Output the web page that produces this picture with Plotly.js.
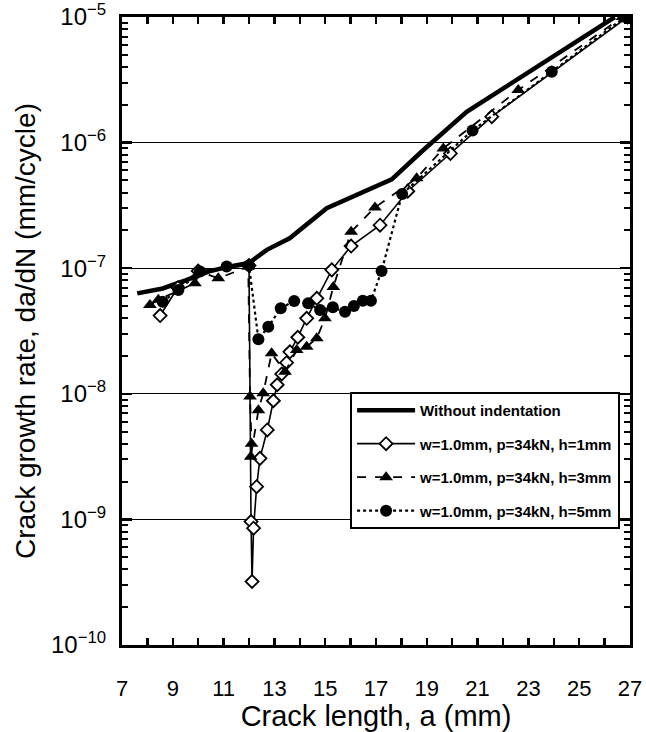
<!DOCTYPE html>
<html>
<head>
<meta charset="utf-8">
<script src="https://cdn.plot.ly/plotly-3.0.1.min.js"></script>
<style>html,body{margin:0;padding:0;background:#fff;}#chart{width:646px;height:732px;}</style>
</head>
<body>
<div id="chart"></div>
<script>
// Without indentation
const aBase = [7.6, 8.6, 9.5, 10.4, 11.2, 12.0, 12.7, 13.6, 15.06, 17.62, 18.8, 20.57, 26.4];
const rBase = [6.3e-8, 6.9e-8, 8.0e-8, 9.4e-8, 1.03e-7, 1.1e-7, 1.4e-7, 1.73e-7, 3.0e-7, 5.1e-7, 8.5e-7, 1.76e-6, 1.0e-5];

// w=1.0mm, p=34kN, h=1mm
const aH1 = [8.5, 9.2, 10.0, 12.0, 12.08, 12.12, 12.18, 12.3, 12.43, 12.72, 12.96, 13.11, 13.29, 13.48, 13.61, 13.92, 14.27, 14.67, 15.26, 16.02, 17.16, 18.25, 19.93, 21.56, 26.9];
const rH1 = [4.2e-8, 7.0e-8, 9.5e-8, 1.05e-7, 9.6e-10, 3.2e-10, 8.5e-10, 1.82e-9, 3.06e-9, 5.15e-9, 8.8e-9, 1.18e-8, 1.44e-8, 1.77e-8, 2.16e-8, 2.82e-8, 3.99e-8, 5.76e-8, 9.7e-8, 1.5e-7, 2.2e-7, 4.1e-7, 8.2e-7, 1.61e-6, 1.0e-5];

// w=1.0mm, p=34kN, h=3mm
const aH3 = [8.1, 8.43, 9.87, 10.07, 10.79, 11.97, 12.04, 12.1, 12.07, 12.37, 12.56, 12.89, 13.42, 13.88, 14.27, 14.67, 14.99, 15.32, 16.02, 16.96, 18.6, 19.65, 22.6, 26.7];
const rH3 = [5.1e-8, 5.6e-8, 7.6e-8, 9.4e-8, 8.3e-8, 1.03e-7, 9.5e-9, 4.0e-9, 3.15e-9, 7.4e-9, 1.01e-8, 2.1e-8, 1.5e-8, 2.23e-8, 2.37e-8, 2.77e-8, 3.99e-8, 7.1e-8, 1.95e-7, 3.05e-7, 5.2e-7, 9.0e-7, 2.62e-6, 1.0e-5];

// w=1.0mm, p=34kN, h=5mm
const aH5 = [8.6, 9.22, 10.07, 11.12, 12.0, 12.37, 12.76, 13.25, 13.78, 14.33, 14.8, 15.3, 15.78, 16.13, 16.48, 16.8, 17.22, 18.03, 20.8, 23.92, 26.8];
const rH5 = [5.4e-8, 6.7e-8, 9.4e-8, 1.03e-7, 1.05e-7, 2.72e-8, 3.42e-8, 4.8e-8, 5.48e-8, 5.26e-8, 4.65e-8, 4.88e-8, 4.5e-8, 5.0e-8, 5.5e-8, 5.5e-8, 9.5e-8, 3.9e-7, 1.25e-6, 3.67e-6, 1.0e-5];

const seriesNames = ['Without indentation', 'w=1.0mm, p=34kN, h=1mm', 'w=1.0mm, p=34kN, h=3mm', 'w=1.0mm, p=34kN, h=5mm'];

const xTickVals = [7,8,9,10,11,12,13,14,15,16,17,18,19,20,21,22,23,24,25,26,27];
const xTickText = ['7','','9','','11','','13','','15','','17','','19','','21','','23','','25','','27'];
const yTickVals = [1e-10, 1e-9, 1e-8, 1e-7, 1e-6, 1e-5];
const yTickText = ['10<sup>−10</sup>', '10<sup>−9</sup>', '10<sup>−8</sup>', '10<sup>−7</sup>', '10<sup>−6</sup>', '10<sup>−5</sup>'];
const decades = [-10, -9, -8, -7, -6];
const minorDigits = [2, 3, 4, 5, 6, 7, 8, 9];
const yMinorVals = [];
decades.forEach(d => minorDigits.forEach(m => yMinorVals.push(m * Math.pow(10, d))));

const FONT = 'Arial, "Liberation Sans", sans-serif';
const YRANGE = [-10.0004, -4.9996];

const traces = [
  {x: aBase, y: rBase, name: seriesNames[0], mode: 'lines', legendgroup: 'g0',
   line: {color: '#000', width: 4.5}},
  {x: aH1, y: rH1, name: seriesNames[1], mode: 'lines+markers', legendgroup: 'g1',
   line: {color: '#000', width: 1.6},
   marker: {symbol: 'diamond', size: 10, color: '#fff', line: {color: '#000', width: 1.8}}},
  {x: aH3, y: rH3, name: seriesNames[2], mode: 'lines+markers', legendgroup: 'g2',
   line: {color: '#000', width: 1.8, dash: 'dash'},
   marker: {symbol: 'triangle-up', size: 12, color: '#000'}},
  {x: aH5, y: rH5, name: seriesNames[3], mode: 'lines+markers', legendgroup: 'g3',
   line: {color: '#000', width: 2.2, dash: 'dot'},
   marker: {symbol: 'circle', size: 12, color: '#000'}},
  // invisible helper trace that activates the minor-tick axis
  {x: [7], y: [1e-10], yaxis: 'y2', mode: 'markers', marker: {opacity: 0}, showlegend: false, hoverinfo: 'skip'}
];

const layout = {
  width: 646, height: 732,
  margin: {l: 122, r: 16, t: 17, b: 87},
  paper_bgcolor: '#fff', plot_bgcolor: '#fff',
  font: {family: FONT, color: '#000'},
  showlegend: true,
  legend: {
    x: 0.449, y: 0.403, xanchor: 'left', yanchor: 'top',
    bgcolor: '#fff', bordercolor: '#000', borderwidth: 2,
    font: {family: FONT, size: 15, color: '#000', weight: 'bold'},
    tracegroupgap: 11, itemwidth: 58
  },
  xaxis: {
    type: 'linear', range: [7, 27],
    tickmode: 'array', tickvals: xTickVals, ticktext: xTickText,
    ticks: 'inside', ticklen: 7, tickwidth: 2.5, tickcolor: '#000',
    ticklabelstandoff: 22,
    tickfont: {family: FONT, size: 22, color: '#000'},
    showline: true, linecolor: '#000', linewidth: 3, mirror: 'ticks',
    showgrid: false, zeroline: false,
    title: {text: 'Crack length, a (mm)', font: {family: FONT, size: 29, color: '#000'}, standoff: 0}
  },
  yaxis: {
    type: 'log', range: YRANGE,
    tickmode: 'array', tickvals: yTickVals, ticktext: yTickText,
    ticks: 'inside', ticklen: 10, tickwidth: 2.5, tickcolor: '#000',
    ticklabelstandoff: 8,
    tickfont: {family: FONT, size: 24, color: '#000'},
    showline: true, linecolor: '#000', linewidth: 3, mirror: 'ticks',
    showgrid: true, gridcolor: '#000', gridwidth: 1, zeroline: false,
    title: {text: 'Crack growth rate, da/dN (mm/cycle)', font: {family: FONT, size: 28, color: '#000'}, standoff: 8}
  },
  yaxis2: {
    type: 'log', range: YRANGE, overlaying: 'y', side: 'left',
    tickmode: 'array', tickvals: yMinorVals, showticklabels: false,
    ticks: 'inside', ticklen: 6, tickwidth: 2, tickcolor: '#000',
    showline: true, linecolor: '#000', linewidth: 3, mirror: 'ticks', showgrid: false, zeroline: false
  }
};

Plotly.newPlot('chart', traces, layout, {displayModeBar: false, staticPlot: true});
</script>
</body>
</html>
